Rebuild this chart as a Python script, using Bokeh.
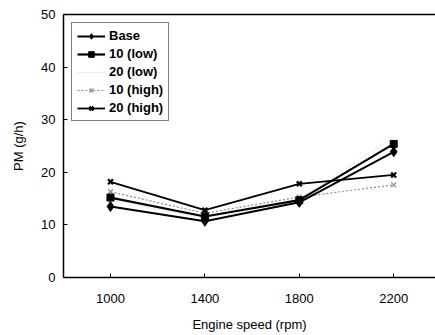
from bokeh.plotting import figure
from bokeh.models import Range1d, FixedTicker, Legend, LegendItem, LinearAxis
from bokeh.embed import file_html
from bokeh.resources import INLINE

speeds = [1000, 1400, 1800, 2200]
base = [13.5, 10.7, 14.3, 23.9]
low10 = [15.2, 11.6, 14.7, 25.4]
low20 = [14.6, 11.3, 14.9, 26.8]
high10 = [16.3, 12.2, 15.3, 17.6]
high20 = [18.2, 12.8, 17.8, 19.5]
y_ticks = [0, 10, 20, 30, 40, 50]

FONT = "Liberation Sans"

p = figure(width=435, height=335, output_backend="svg", toolbar_location=None,
           x_range=Range1d(801, 2377), y_range=Range1d(0, 50),
           min_border_left=63, min_border_right=0, min_border_top=14, min_border_bottom=58)
p.background_fill_color = "white"
p.border_fill_color = "white"
p.outline_line_color = None
p.xgrid.visible = False
p.ygrid.visible = False

for ax in (p.xaxis[0], p.yaxis[0]):
    ax.axis_line_color = "black"
    ax.axis_line_width = 1.5
    ax.major_tick_in = 4
    ax.major_tick_out = 0
    ax.minor_tick_line_color = None
    ax.major_label_text_font = FONT
    ax.major_label_text_font_size = "13px"
    ax.major_label_text_color = "black"
    ax.axis_label_text_font = FONT
    ax.axis_label_text_font_size = "13px"
    ax.axis_label_text_font_style = "normal"
    ax.axis_label_text_color = "black"

p.xaxis.ticker = FixedTicker(ticks=speeds)
p.yaxis.ticker = FixedTicker(ticks=y_ticks)
p.xaxis.major_label_standoff = 16
p.yaxis.major_label_standoff = 8
p.xaxis.axis_label = "Engine speed (rpm)"
p.yaxis.axis_label = "PM (g/h)"
p.xaxis.axis_label_standoff = 11
p.yaxis.axis_label_standoff = 12

# top frame line (no right border in the reference)
top_axis = LinearAxis(ticker=FixedTicker(ticks=[]), axis_line_color="black", axis_line_width=1.5,
                      major_tick_line_color=None, minor_tick_line_color=None)
p.add_layout(top_axis, "above")

# 20 (low): faint series (almost lost in the original)
l_low20 = p.line(speeds, low20, line_color="#ececec", line_width=1)

l_high10 = p.line(speeds, high10, line_color="#8a8a8a", line_width=1.2, line_dash="2 2")
m_high10 = p.scatter(speeds, high10, marker="x", size=7, line_color="#8a8a8a", line_width=1.2)

l_base = p.line(speeds, base, line_color="black", line_width=2)
m_base = p.scatter(speeds, base, marker="diamond", size=10, fill_color="black", line_color="black")

l_low10 = p.line(speeds, low10, line_color="black", line_width=2.2)
m_low10 = p.scatter(speeds, low10, marker="square", size=7, fill_color="black", line_color="black")

l_high20 = p.line(speeds, high20, line_color="black", line_width=1.8)
m_high20 = p.scatter(speeds, high20, marker="x", size=7, line_color="black", line_width=2.2)

legend = Legend(items=[
    LegendItem(label="Base", renderers=[l_base, m_base]),
    LegendItem(label="10 (low)", renderers=[l_low10, m_low10]),
    LegendItem(label="20 (low)", renderers=[l_low20]),
    LegendItem(label="10 (high)", renderers=[l_high10, m_high10]),
    LegendItem(label="20 (high)", renderers=[l_high20, m_high20]),
], location="top_left")
legend.margin = 8
legend.padding = 5
legend.spacing = 3
legend.glyph_height = 14
legend.label_height = 14
legend.glyph_width = 28
legend.label_standoff = 4
legend.border_line_color = "black"
legend.border_line_width = 1.5
legend.label_text_font = FONT
legend.label_text_font_size = "13px"
legend.label_text_font_style = "bold"
legend.label_text_color = "black"
legend.background_fill_alpha = 1
p.add_layout(legend)

open("out.html", "w").write(file_html(p, INLINE))
